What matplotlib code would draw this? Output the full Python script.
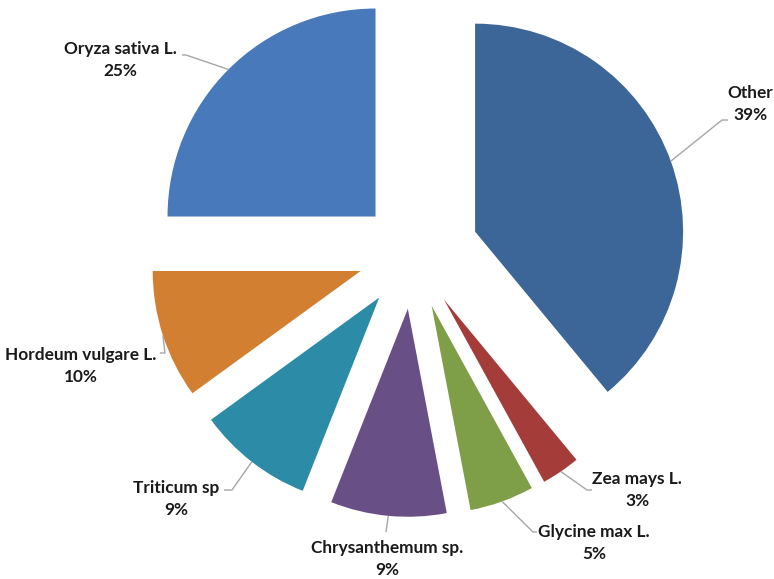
import numpy as np
import matplotlib
matplotlib.use('Agg')
import matplotlib.pyplot as plt

# crop share data, clockwise from 12 o'clock
species = ['Other', 'Zea mays L.', 'Glycine max L.', 'Chrysanthemum sp.',
           'Triticum sp', 'Hordeum vulgare L.', 'Oryza sativa L.']
shares = [39, 3, 5, 9, 9, 10, 25]
colors = ['#3C6598', '#A43D3A', '#7E9E47', '#684F86',
          '#2C8BA6', '#D27F32', '#4879BB']

W, H = 774, 579
# axes in pixel units, y up
center = (413, H - 254)
radius = 208
explode = [66, 55, 55, 55, 55, 55, 53]

# label text centres and leader-line elbows (pixels from top-left)
label_xy = [(750, 104), (637, 490), (594, 543), (387, 559),
            (176, 499), (81, 366), (120, 60)]
leader_pts = [[(722, 120), (728, 120)],
              [(587, 490), (592, 490)],
              [(533, 532), (537, 532)],
              [(386, 532)],
              [(232, 490), (224, 490)],
              [(165, 353), (160, 353)],
              [(186, 55), (182, 55)]]

plt.rcParams['font.family'] = ['Lato', 'DejaVu Sans']

fig = plt.figure(figsize=(W / 100, H / 100), dpi=100)
ax = fig.add_axes([0, 0, 1, 1])

wedges, _ = ax.pie(shares, colors=colors, startangle=90, counterclock=False,
                   center=center, radius=radius, explode=explode,
                   wedgeprops=dict(linewidth=0))

for w, name, val, (tx, ty), pts in zip(wedges, species, shares, label_xy, leader_pts):
    mid = np.deg2rad((w.theta1 + w.theta2) / 2)
    cx, cy = w.center
    xs = [cx + w.r * np.cos(mid)] + [p[0] for p in pts]
    ys = [cy + w.r * np.sin(mid)] + [H - p[1] for p in pts]
    ax.plot(xs, ys, color='#A6A6A6', lw=1, solid_capstyle='butt')
    ax.text(tx, H - ty, f'{name}\n{val}%', ha='center', va='center',
            multialignment='center', fontsize=12.4, fontweight='bold',
            color='#1A1A1A', linespacing=1.4)

# pie() sets its own limits, so fix the pixel frame afterwards
ax.set_xlim(0, W)
ax.set_ylim(0, H)
ax.set_aspect('equal')
ax.axis('off')

fig.savefig('out.png', dpi=100)
